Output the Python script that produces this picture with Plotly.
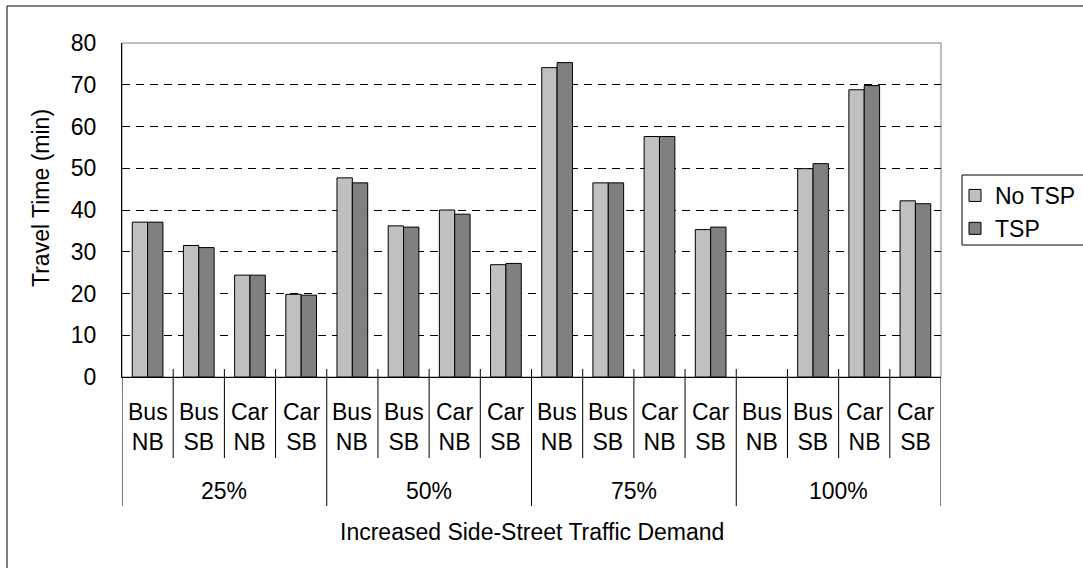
import plotly.graph_objects as go

# Travel time by vehicle type / direction under increasing side-street demand
demand_levels = ["25%", "50%", "75%", "100%"]
movements = ["Bus<br>NB", "Bus<br>SB", "Car<br>NB", "Car<br>SB"]

no_tsp = [37.1, 31.5, 24.4, 19.8,
          47.7, 36.2, 40.0, 26.9,
          74.1, 46.5, 57.6, 35.3,
          None, 49.9, 68.8, 42.2]
tsp = [37.1, 31.0, 24.4, 19.6,
       46.5, 35.9, 39.0, 27.2,
       75.3, 46.5, 57.6, 35.9,
       None, 51.1, 69.8, 41.5]

y_ticks = [0, 10, 20, 30, 40, 50, 60, 70, 80]

W, H = 1083, 568
L, R, T, B = 122, 941, 43, 377  # plot-area pixel bounds
FONT = "Liberation Sans, Arial, sans-serif"
FS = 23

n_cat = len(demand_levels) * len(movements)
xs = list(range(n_cat))


def px_x(px):
    return (px - L) / (R - L)


def px_y(py):
    return (B - py) / (B - T)


fig = go.Figure()
fig.add_trace(go.Bar(x=xs, y=no_tsp, name="No TSP", legendgroup="a",
                     marker=dict(color="#C0C0C0", line=dict(color="#000000", width=1))))
fig.add_trace(go.Bar(x=xs, y=tsp, name="TSP", legendgroup="b",
                     marker=dict(color="#808080", line=dict(color="#000000", width=1))))

shapes = []
# outer chart frame (left and top edges)
shapes.append(dict(type="line", xref="paper", yref="paper",
                   x0=px_x(7), x1=px_x(7), y0=px_y(6), y1=px_y(H + 5),
                   line=dict(color="#000000", width=1)))
shapes.append(dict(type="line", xref="paper", yref="paper",
                   x0=px_x(7), x1=px_x(W + 5), y0=px_y(6), y1=px_y(6),
                   line=dict(color="#000000", width=1)))
# plot-area border
shapes.append(dict(type="rect", xref="paper", yref="paper", x0=0, x1=1, y0=0, y1=1,
                   line=dict(color="#808080", width=1), layer="below"))
# category dividers below the axis
for k in range(n_cat + 1):
    xb = k - 0.5
    is_group = k % len(movements) == 0
    y_bottom = px_y(506) if is_group else px_y(458)
    y_top = px_y(369) if 0 < k < n_cat else 0
    shapes.append(dict(type="line", xref="x", yref="paper",
                       x0=xb, x1=xb, y0=y_top, y1=y_bottom,
                       line=dict(color="#000000", width=1)))
# legend frame
shapes.append(dict(type="rect", xref="paper", yref="paper",
                   x0=px_x(962), x1=px_x(W + 10), y0=px_y(175), y1=px_y(245),
                   line=dict(color="#000000", width=1), fillcolor="rgba(0,0,0,0)"))

annotations = []
for g, lvl in enumerate(demand_levels):
    for m, mv in enumerate(movements):
        annotations.append(dict(x=g * len(movements) + m, y=px_y(427), xref="x", yref="paper",
                                text=mv, showarrow=False, xanchor="center", yanchor="middle",
                                font=dict(family=FONT, size=FS, color="#000000")))
    annotations.append(dict(x=g * len(movements) + (len(movements) - 1) / 2, y=px_y(491),
                            xref="x", yref="paper", text=lvl, showarrow=False,
                            xanchor="center", yanchor="middle",
                            font=dict(family=FONT, size=FS, color="#000000")))
annotations.append(dict(x=0.5, y=px_y(532), xref="paper", yref="paper",
                        text="Increased Side-Street Traffic Demand", showarrow=False,
                        xanchor="center", yanchor="middle",
                        font=dict(family=FONT, size=FS, color="#000000")))
annotations.append(dict(x=px_x(41), y=px_y(198), xref="paper", yref="paper",
                        text="Travel Time (min)", showarrow=False, textangle=-90,
                        xanchor="center", yanchor="middle",
                        font=dict(family=FONT, size=FS, color="#000000")))

fig.update_layout(
    width=W, height=H,
    margin=dict(l=L, r=W - R, t=T, b=H - B, pad=0, autoexpand=False),
    paper_bgcolor="#FFFFFF", plot_bgcolor="#FFFFFF",
    barmode="group", bargap=0.4, bargroupgap=0,
    font=dict(family=FONT, size=FS, color="#000000"),
    showlegend=True,
    legend=dict(x=px_x(955), y=px_y(174), xanchor="left", yanchor="top",
                bgcolor="rgba(0,0,0,0)", borderwidth=0, tracegroupgap=0,
                font=dict(family=FONT, size=FS, color="#000000")),
    xaxis=dict(range=[-0.5, n_cat - 0.5], showticklabels=False, showgrid=False,
               zeroline=False, showline=True, linecolor="#000000", linewidth=1, ticks=""),
    yaxis=dict(range=[0, 80], tickvals=y_ticks, showgrid=True, gridcolor="#000000",
               gridwidth=1, griddash="8px,6px", zeroline=False, showline=True,
               linecolor="#000000", linewidth=1, ticks="", ticklabelstandoff=20,
               tickfont=dict(family=FONT, size=FS, color="#000000")),
    shapes=shapes,
    annotations=annotations,
)

fig.write_html("out.html")
